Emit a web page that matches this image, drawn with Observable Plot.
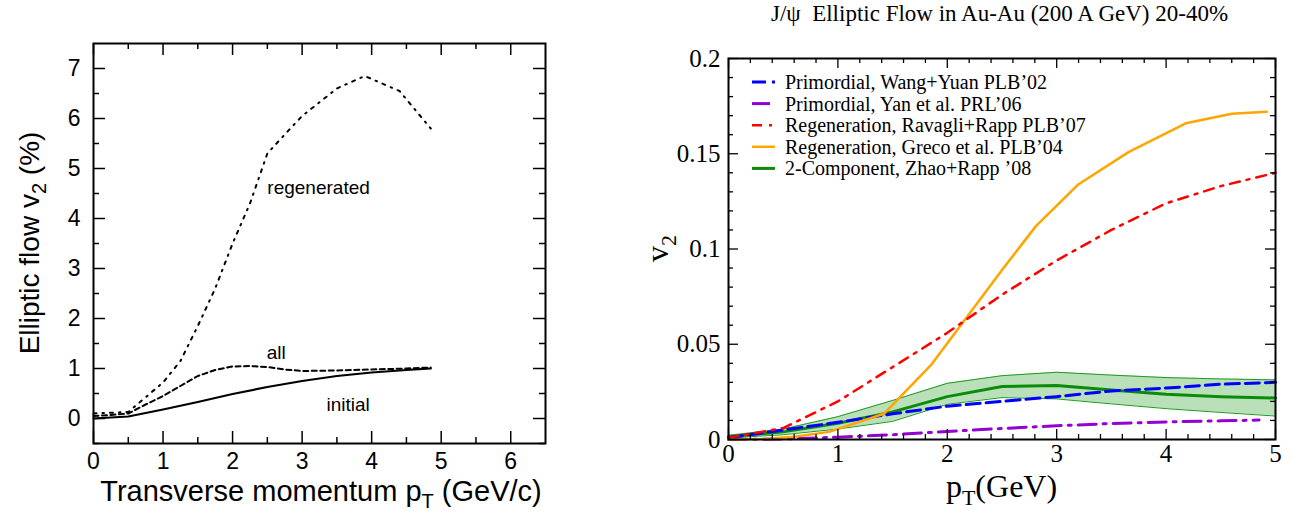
<!DOCTYPE html>
<html>
<head>
<meta charset="utf-8">
<script src="https://cdn.jsdelivr.net/npm/d3@7"></script>
<script src="https://cdn.jsdelivr.net/npm/@observablehq/plot@0.6"></script>
<style>
  html, body { margin: 0; padding: 0; background: #fff; }
  #wrap { position: relative; width: 1293px; height: 514px; overflow: hidden; background: #fff; }
  #left { position: absolute; left: 0; top: 0; }
  #right { position: absolute; left: 640px; top: 0; }
</style>
</head>
<body>
<div id="wrap"><div id="left"></div><div id="right"></div></div>
<script>
// ---------------- LEFT PANEL DATA ----------------
const leftXTicks = [0, 1, 2, 3, 4, 5, 6];
const leftXMinor = [0.5, 1.5, 2.5, 3.5, 4.5, 5.5];
const leftYTicks = [0, 1, 2, 3, 4, 5, 6, 7];
const leftYMinor = [-0.5, 0.5, 1.5, 2.5, 3.5, 4.5, 5.5, 6.5];

const initialX = [0, 0.5, 1, 1.5, 2, 2.5, 3, 3.5, 4, 4.5, 4.85];
const initialY = [0, 0.04, 0.18, 0.33, 0.49, 0.63, 0.75, 0.85, 0.92, 0.97, 1.0];

const allX = [0, 0.25, 0.5, 0.75, 1, 1.25, 1.5, 1.75, 2, 2.25, 2.5, 2.75, 3, 3.5, 4, 4.5, 4.85];
const allY = [0.05, 0.07, 0.1, 0.28, 0.45, 0.65, 0.85, 0.97, 1.04, 1.05, 1.03, 0.98, 0.95, 0.96, 0.98, 1.0, 1.02];

const regenX = [0, 0.5, 1, 1.25, 1.5, 1.75, 2, 2.25, 2.5, 2.75, 3, 3.5, 3.9, 4.4, 4.85];
const regenY = [0.1, 0.13, 0.72, 1.15, 1.85, 2.6, 3.5, 4.3, 5.3, 5.68, 6.05, 6.6, 6.85, 6.55, 5.8];

const leftLabelText = ["regenerated", "all", "initial"];
const leftLabelX = [2.5, 2.49, 3.35];
const leftLabelY = [4.62, 1.31, 0.27];

// ---------------- RIGHT PANEL DATA ----------------
const rightXTicks = [0, 1, 2, 3, 4, 5];
const rightXMinor = [0.2,0.4,0.6,0.8,1.2,1.4,1.6,1.8,2.2,2.4,2.6,2.8,3.2,3.4,3.6,3.8,4.2,4.4,4.6,4.8];
const rightYTicks = [0, 0.05, 0.1, 0.15, 0.2];
const rightYMinor = [0.01,0.02,0.03,0.04,0.06,0.07,0.08,0.09,0.11,0.12,0.13,0.14,0.16,0.17,0.18,0.19];

const wangX = [0, 0.5, 1, 1.5, 2, 2.5, 3, 3.5, 4, 4.5, 5];
const wangY = [0.001, 0.005, 0.009, 0.0135, 0.0175, 0.020, 0.0225, 0.0255, 0.027, 0.029, 0.030];

const yanX = [0, 0.5, 1, 1.5, 2, 2.5, 3, 3.5, 4, 4.5, 4.85];
const yanY = [0, 0.0003, 0.0012, 0.0025, 0.0042, 0.0058, 0.0072, 0.0084, 0.0092, 0.0098, 0.0102];

const ravagliX = [0, 0.5, 1, 1.5, 2, 2.5, 3, 3.5, 4, 4.5, 5];
const ravagliY = [0.001, 0.006, 0.020, 0.038, 0.056, 0.076, 0.094, 0.110, 0.124, 0.133, 0.140];

const grecoX = [0, 0.3, 0.6, 0.92, 1.42, 1.85, 2.5, 2.81, 3.2, 3.66, 4.18, 4.6, 4.92];
const grecoY = [0, 0.0003, 0.0015, 0.004, 0.0135, 0.039, 0.089, 0.112, 0.134, 0.151, 0.166, 0.171, 0.172];

const zhaoX = [0, 0.5, 1, 1.5, 2, 2.5, 3, 3.5, 4, 4.5, 5];
const zhaoY = [0.0015, 0.004, 0.0085, 0.0145, 0.0225, 0.0278, 0.0283, 0.026, 0.0237, 0.0225, 0.0218];
const zhaoHi = [0.0022, 0.0055, 0.012, 0.0205, 0.0295, 0.0335, 0.0353, 0.0338, 0.0325, 0.0318, 0.0313];
const zhaoLo = [0.0008, 0.0025, 0.0055, 0.0095, 0.0185, 0.022, 0.0213, 0.0187, 0.0162, 0.0142, 0.0123];

const legendLabels = [
  "Primordial, Wang+Yuan PLB\u201902",
  "Primordial, Yan et al. PRL\u201906",
  "Regeneration, Ravagli+Rapp PLB\u201907",
  "Regeneration, Greco et al. PLB\u201904",
  "2-Component, Zhao+Rapp \u201908"
];
const legendColors = ["#0000ff", "#9400d3", "#ff0000", "#ffa500", "#0a8c0a"];
const legendDash = ["14,6", "18,7,3,7", "10,7,3,7", null, null];
const legendWidth = [3, 3, 2.5, 2.5, 3];

const rightTitle = "J/\u03c8  Elliptic Flow in Au-Au (200 A GeV) 20-40%";

// ---------------- helpers ----------------
const pts = (xs, ys) => xs.map((x, i) => ({x, y: ys[i]}));
const fmt = d => String(d);

function frameTicks(xMaj, xMin, yMaj, yMin, fw, fh, majLen, minLen, sw) {
  const o = {stroke: "black", strokeWidth: sw};
  return [
    Plot.tickX(xMaj, {x: d => d, insetTop: fh - majLen, ...o}),
    Plot.tickX(xMaj, {x: d => d, insetBottom: fh - majLen, ...o}),
    Plot.tickX(xMin, {x: d => d, insetTop: fh - minLen, ...o}),
    Plot.tickX(xMin, {x: d => d, insetBottom: fh - minLen, ...o}),
    Plot.tickY(yMaj, {y: d => d, insetRight: fw - majLen, ...o}),
    Plot.tickY(yMaj, {y: d => d, insetLeft: fw - majLen, ...o}),
    Plot.tickY(yMin, {y: d => d, insetRight: fw - minLen, ...o}),
    Plot.tickY(yMin, {y: d => d, insetLeft: fw - minLen, ...o})
  ];
}

// ---------------- LEFT PLOT ----------------
const L = {w: 640, h: 514, ml: 93, mr: 95, mt: 43, mb: 71};
const Lfw = L.w - L.ml - L.mr, Lfh = L.h - L.mt - L.mb;
const leftLabels = leftLabelText.map((t, i) => ({t, x: leftLabelX[i], y: leftLabelY[i]}));
const sans = "'Liberation Sans', Arial, Helvetica, sans-serif";

const left = Plot.plot({
  width: L.w, height: L.h,
  marginLeft: L.ml, marginRight: L.mr, marginTop: L.mt, marginBottom: L.mb,
  style: {fontFamily: sans, fontSize: "23px", color: "#000", background: "#fff"},
  x: {domain: [0, 6.5], label: null},
  y: {domain: [-0.5, 7.5], label: null},
  marks: [
    Plot.axisX(leftXTicks, {tickSize: 0, tickPadding: 9, fontSize: 23, label: null, tickFormat: fmt}),
    Plot.axisY(leftYTicks, {tickSize: 0, tickPadding: 13, fontSize: 23, label: null, tickFormat: fmt}),
    ...frameTicks(leftXTicks, leftXMinor, leftYTicks, leftYMinor, Lfw, Lfh, 12, 6, 1.5),
    Plot.line(pts(regenX, regenY), {x: "x", y: "y", stroke: "black", strokeWidth: 2, strokeDasharray: "3,6,1.5,6"}),
    Plot.line(pts(allX, allY), {x: "x", y: "y", stroke: "black", strokeWidth: 2, strokeDasharray: "5,3.5"}),
    Plot.line(pts(initialX, initialY), {x: "x", y: "y", stroke: "black", strokeWidth: 2.2}),
    Plot.text(leftLabels, {x: "x", y: "y", text: "t", textAnchor: "start", fontSize: 19}),
    Plot.frame({stroke: "black", strokeWidth: 2})
  ]
});
document.getElementById("left").appendChild(left);

{
  const svg = d3.select(left);
  const yl = svg.append("text")
    .attr("transform", `translate(39,${L.mt + Lfh / 2}) rotate(-90)`)
    .attr("text-anchor", "middle")
    .attr("font-family", sans)
    .attr("font-size", 28).attr("fill", "black");
  yl.append("tspan").text("Elliptic flow v");
  yl.append("tspan").attr("font-size", 20).attr("dy", 7).text("2");
  yl.append("tspan").attr("dy", -7).text(" (%)");

  const xl = svg.append("text")
    .attr("x", L.ml + Lfw / 2 + 2).attr("y", 501)
    .attr("text-anchor", "middle")
    .attr("font-family", sans)
    .attr("font-size", 29).attr("fill", "black");
  xl.append("tspan").text("Transverse momentum p");
  xl.append("tspan").attr("font-size", 20).attr("dy", 7).text("T");
  xl.append("tspan").attr("dy", -7).text(" (GeV/c)");
}

// ---------------- RIGHT PLOT ----------------
const R = {w: 653, h: 514, ml: 88, mr: 18, mt: 58, mb: 75};
const Rfw = R.w - R.ml - R.mr, Rfh = R.h - R.mt - R.mb;
const band = zhaoX.map((x, i) => ({x, y: zhaoY[i], lo: zhaoLo[i], hi: zhaoHi[i]}));
const serif = "'Liberation Serif', 'Times New Roman', serif";

const right = Plot.plot({
  width: R.w, height: R.h,
  marginLeft: R.ml, marginRight: R.mr, marginTop: R.mt, marginBottom: R.mb,
  style: {fontFamily: serif, fontSize: "25px", color: "#000", background: "#fff"},
  x: {domain: [0, 5], label: null},
  y: {domain: [0, 0.2], label: null},
  marks: [
    Plot.areaY(band, {x: "x", y1: "lo", y2: "hi", fill: "#b9e0b9"}),
    Plot.line(band, {x: "x", y: "lo", stroke: "#1f9a1f", strokeWidth: 1}),
    Plot.line(band, {x: "x", y: "hi", stroke: "#1f9a1f", strokeWidth: 1}),
    Plot.line(band, {x: "x", y: "y", stroke: legendColors[4], strokeWidth: legendWidth[4]}),
    Plot.line(pts(wangX, wangY), {x: "x", y: "y", stroke: legendColors[0], strokeWidth: legendWidth[0], strokeDasharray: legendDash[0]}),
    Plot.line(pts(yanX, yanY), {x: "x", y: "y", stroke: legendColors[1], strokeWidth: legendWidth[1], strokeDasharray: legendDash[1]}),
    Plot.line(pts(grecoX, grecoY), {x: "x", y: "y", stroke: legendColors[3], strokeWidth: legendWidth[3]}),
    Plot.line(pts(ravagliX, ravagliY), {x: "x", y: "y", stroke: legendColors[2], strokeWidth: legendWidth[2], strokeDasharray: legendDash[2]}),
    Plot.axisX(rightXTicks, {tickSize: 0, tickPadding: 5, fontSize: 25, label: null, tickFormat: fmt}),
    Plot.axisY(rightYTicks, {tickSize: 0, tickPadding: 8, fontSize: 25, label: null, tickFormat: fmt}),
    ...frameTicks(rightXTicks, rightXMinor, rightYTicks, rightYMinor, Rfw, Rfh, 10, 5, 1.3),
    Plot.frame({stroke: "black", strokeWidth: 2})
  ]
});
document.getElementById("right").appendChild(right);

{
  const svg = d3.select(right);
  svg.append("text")
    .attr("x", R.ml + Rfw / 2 - 2).attr("y", 21)
    .attr("text-anchor", "middle")
    .attr("font-family", serif).attr("font-size", 23).attr("font-style", "normal").attr("fill", "black")
    .attr("xml:space", "preserve").style("white-space", "pre")
    .text(rightTitle);

  const yl = svg.append("text")
    .attr("transform", `translate(28,${R.mt + Rfh / 2}) rotate(-90)`)
    .attr("text-anchor", "middle")
    .attr("font-family", serif).attr("font-size", 32).attr("fill", "black");
  yl.append("tspan").text("v");
  yl.append("tspan").attr("font-size", 22).attr("dy", 8).text("2");

  const xl = svg.append("text")
    .attr("x", R.ml + Rfw / 2).attr("y", 497)
    .attr("text-anchor", "middle")
    .attr("font-family", serif).attr("font-size", 32).attr("fill", "black");
  xl.append("tspan").text("p");
  xl.append("tspan").attr("font-size", 22).attr("dy", 8).text("T");
  xl.append("tspan").attr("dy", -8).text("(GeV)");

  const lg = svg.append("g").attr("text-anchor", "start");
  legendLabels.forEach((lab, i) => {
    const yy = 82 + i * 21.6;
    lg.append("line")
      .attr("x1", 112).attr("x2", 135).attr("y1", yy).attr("y2", yy)
      .attr("stroke", legendColors[i]).attr("stroke-width", legendWidth[i])
      .attr("stroke-dasharray", legendDash[i]);
    lg.append("text")
      .attr("x", 145).attr("y", yy).attr("dy", "0.35em")
      .attr("text-anchor", "start")
      .attr("font-family", serif).attr("font-size", 20).attr("fill", "black")
      .text(lab);
  });
}
</script>
</body>
</html>
